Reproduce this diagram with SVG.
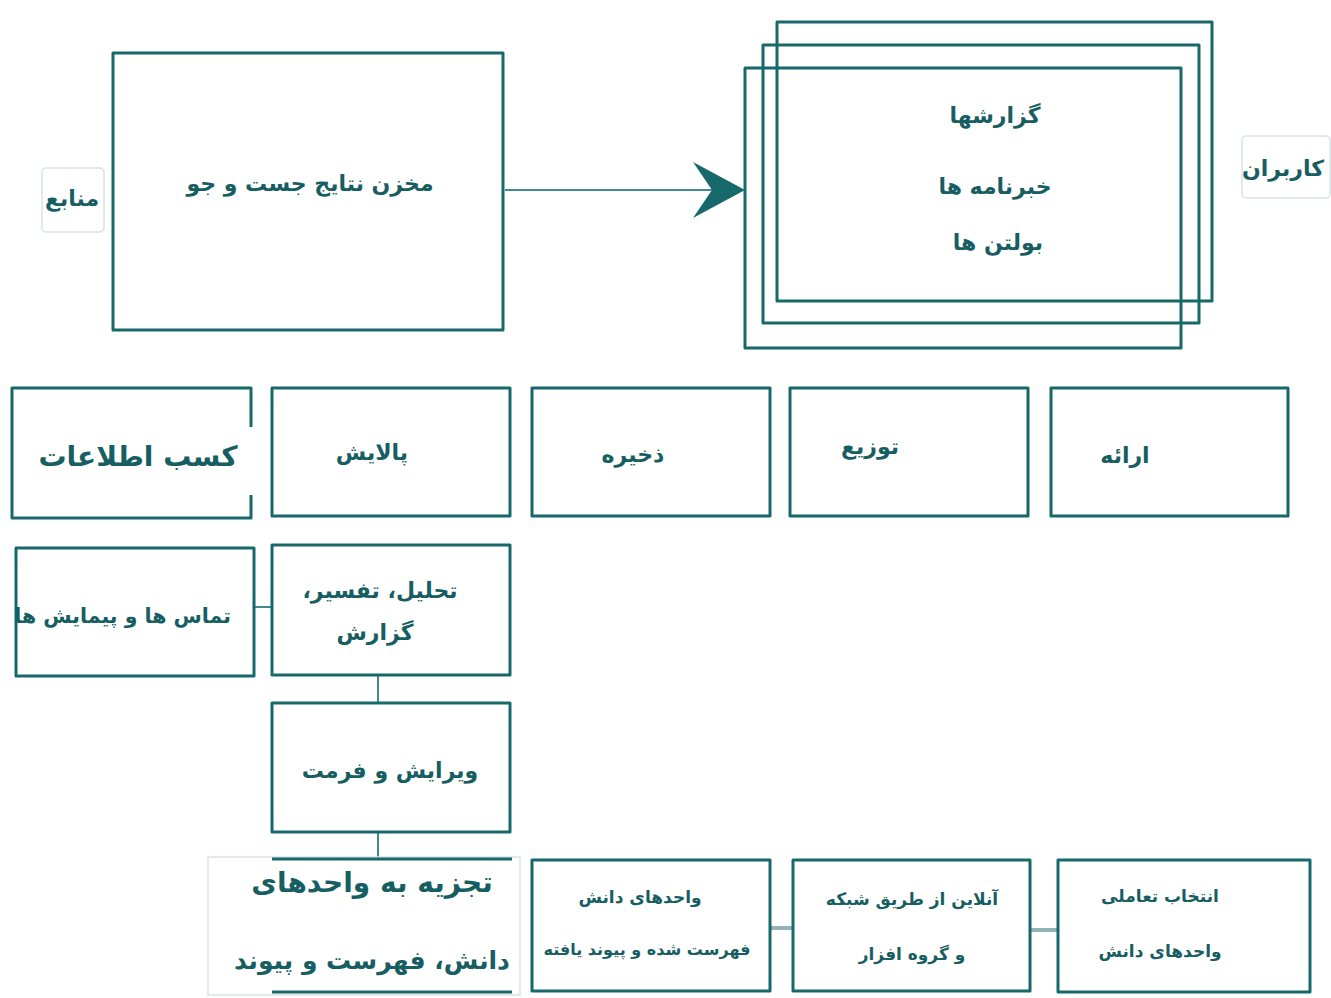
<svg xmlns="http://www.w3.org/2000/svg" width="1331" height="998" viewBox="0 0 1331 998">
<defs>
<style>
.box{fill:none;stroke:#17686b;stroke-width:3;stroke-linejoin:round}
.faint{fill:none;stroke:#d9e2e2;stroke-width:1.5}
.con{fill:none;stroke:#3f8a8c;stroke-width:2}
.con2{fill:none;stroke:#8fb5b6;stroke-width:4}
.t{font-family:"DejaVu Sans",sans-serif;font-weight:bold;fill:#175e62;text-anchor:middle;direction:rtl}
.s24{font-size:22px}
.s20{font-size:17px}
.s32{font-size:28px}
</style>
</defs>
<rect width="1331" height="998" fill="#ffffff"/>

<g id="connectors">
<line class="con" x1="505" y1="190" x2="715" y2="190"/>
<polygon points="745,190 693,162 712,190 693,218" fill="#17686b"/>
<line class="con" x1="254" y1="607" x2="272" y2="607"/>
<line class="con" x1="378" y1="675" x2="378" y2="703"/>
<line class="con" x1="378" y1="832" x2="378" y2="859"/>
<line class="con2" x1="770" y1="928" x2="793" y2="928"/>
<line class="con2" x1="1030" y1="930" x2="1058" y2="930"/>
</g>

<g id="sources">
<rect class="faint" x="42" y="168" width="62" height="64" rx="4"/>
<text class="t s24" x="72" y="206">منابع</text>
</g>

<g id="repository">
<rect class="box" x="113" y="53" width="390" height="277"/>
<text class="t s24" x="310" y="191">مخزن نتایج جست و جو</text>
</g>

<g id="outputs">
<rect class="box" x="777" y="22" width="435" height="279"/>
<rect class="box" x="763" y="45" width="436" height="278"/>
<rect class="box" x="745" y="68" width="436" height="280"/>
<text class="t s24" x="995" y="123">گزارشها</text>
<text class="t s24" x="995" y="194">خبرنامه ها</text>
<text class="t s24" x="998" y="250">بولتن ها</text>
</g>

<g id="users">
<rect class="faint" x="1242" y="136" width="88" height="62" rx="4"/>
<text class="t s24" x="1283" y="176">کاربران</text>
</g>

<g id="acquire">
<path class="box" d="M251,427 V388 H12 V518 H251 V495"/>
<text class="t s32" x="138" y="466">کسب اطلاعات</text>
</g>

<g id="refine">
<rect class="box" x="272" y="388" width="238" height="128"/>
<text class="t s24" x="372" y="460">پالایش</text>
</g>

<g id="store">
<rect class="box" x="532" y="388" width="238" height="128"/>
<text class="t s24" x="633" y="462">ذخیره</text>
</g>

<g id="distribute">
<rect class="box" x="790" y="388" width="238" height="128"/>
<text class="t s24" x="870" y="454">توزیع</text>
</g>

<g id="present">
<rect class="box" x="1051" y="388" width="237" height="128"/>
<text class="t s24" x="1125" y="463">ارائه</text>
</g>

<g id="contacts">
<rect class="box" x="16" y="548" width="238" height="128"/>
<text class="t" x="231" y="623" style="text-anchor:start;font-size:20.5px">تماس ها و پیمایش ها</text>
</g>

<g id="analysis">
<rect class="box" x="272" y="545" width="238" height="130"/>
<text class="t s24" x="380" y="598">تحلیل، تفسیر،</text>
<text class="t s24" x="375" y="640">گزارش</text>
</g>

<g id="edit">
<rect class="box" x="272" y="703" width="238" height="129"/>
<text class="t s24" x="390" y="778">ویرایش و فرمت</text>
</g>

<g id="decompose">
<rect class="faint" x="208" y="857" width="312" height="138"/>
<line class="box" x1="272" y1="859" x2="512" y2="859"/>
<line class="box" x1="272" y1="992" x2="512" y2="992"/>
<text class="t s32" x="372" y="892">تجزیه به واحدهای</text>
<text class="t" x="372" y="969" style="font-size:25px">دانش، فهرست و پیوند</text>
</g>

<g id="indexed">
<rect class="box" x="532" y="860" width="238" height="131"/>
<text class="t s20" x="640" y="903">واحدهای دانش</text>
<text class="t" x="647" y="955" style="font-size:16px">فهرست شده و پیوند یافته</text>
</g>

<g id="online">
<rect class="box" x="793" y="860" width="237" height="131"/>
<text class="t s20" x="912" y="905">آنلاین از طریق شبکه</text>
<text class="t s20" x="912" y="960">و گروه افزار</text>
</g>

<g id="select">
<rect class="box" x="1058" y="860" width="252" height="132"/>
<text class="t s20" x="1160" y="902">انتخاب تعاملی</text>
<text class="t s20" x="1160" y="957">واحدهای دانش</text>
</g>
</svg>
